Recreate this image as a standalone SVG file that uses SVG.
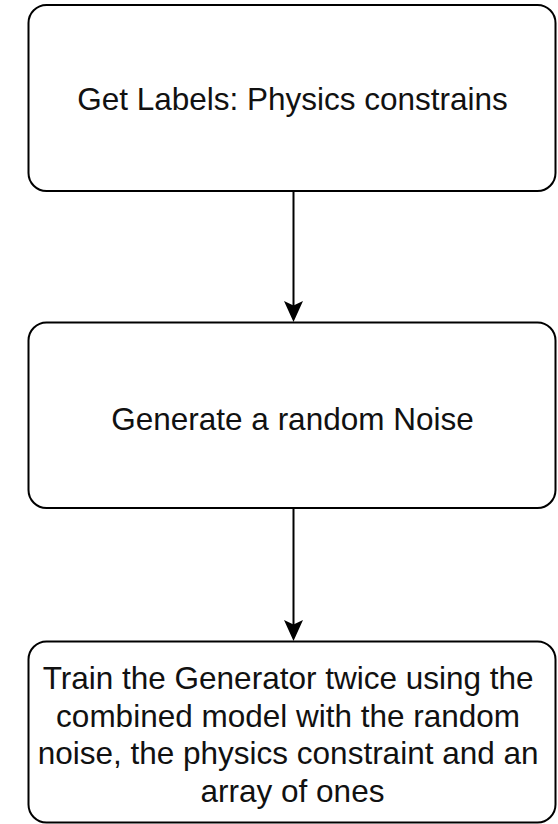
<svg xmlns="http://www.w3.org/2000/svg" width="558" height="824" viewBox="0 0 558 824">
  <style>
    .box { fill: #ffffff; stroke: #000000; stroke-width: 2; }
    .label { font-family: "Liberation Sans", Arial, Helvetica, sans-serif; font-size: 31.5px; fill: #111111; text-anchor: middle; }
    .edge { fill: none; stroke: #000000; stroke-width: 2; }
  </style>
  <defs>
    <marker id="arrow" markerUnits="userSpaceOnUse" markerWidth="22" markerHeight="22" viewBox="0 0 22 22" refX="15" refY="11" orient="auto">
      <path d="M0,1.5 L21,11 L0,20.5 L4.5,11 Z" fill="#000000"/>
    </marker>
  </defs>
  <rect width="558" height="824" fill="#ffffff"/>

  <g id="connectors">
    <line class="edge" x1="293.5" y1="191" x2="293.5" y2="316" marker-end="url(#arrow)"/>
    <line class="edge" x1="293.5" y1="508" x2="293.5" y2="635" marker-end="url(#arrow)"/>
  </g>

  <g id="get-labels">
    <rect class="box" x="28.5" y="5" width="527" height="186" rx="18" ry="18"/>
    <text class="label" x="292.5" y="109.5">Get Labels: Physics constrains</text>
  </g>

  <g id="random-noise">
    <rect class="box" x="28.5" y="322.5" width="527" height="185.5" rx="18" ry="18"/>
    <text class="label" x="292.5" y="430">Generate a random Noise</text>
  </g>

  <g id="train-generator">
    <rect class="box" x="28.5" y="641.5" width="527" height="181" rx="18" ry="18"/>
    <text class="label" x="292.5" y="689">
      <tspan x="292.5" y="689">Train the Generator twice using the</tspan>
      <tspan x="292.5" y="726.6">combined model with the random</tspan>
      <tspan x="292.5" y="764.2">noise, the physics constraint and an</tspan>
      <tspan x="292.5" y="801.8">array of ones</tspan>
    </text>
  </g>
</svg>
